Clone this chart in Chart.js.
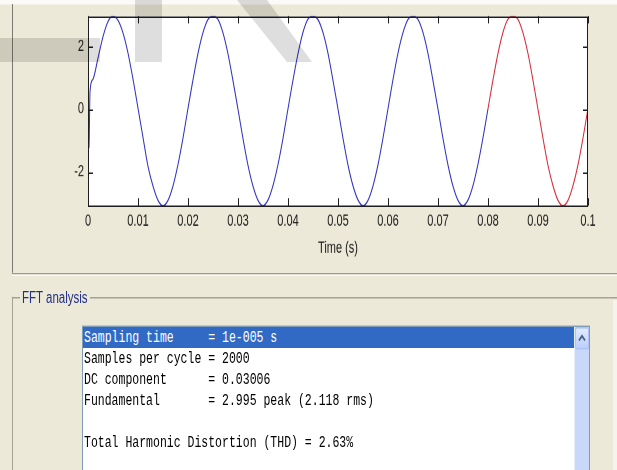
<!DOCTYPE html>
<html>
<head>
<meta charset="utf-8">
<script src="https://cdn.jsdelivr.net/npm/chart.js@4/dist/chart.umd.min.js"></script>
<style>
  html, body { margin: 0; padding: 0; }
  body { width: 617px; height: 470px; overflow: hidden; background: #ECE9D8; position: relative; }
  /* the GUI is laid out at 2/3 height and stretched vertically */
  #stage { position: absolute; left: 0; top: 0; width: 617px; height: 313.333px;
           transform: scaleY(1.5); transform-origin: 0 0; }
  .abs { position: absolute; }
  #topband { left: 0; top: 0; width: 617px; height: 3.33px; background: #fafaf8; }
  #plotBox { left: 0; top: 0; width: 617px; height: 182px; }
  #leftLine { left: 12px; top: 3.33px; width: 1px; height: 178.7px; background: #7c7a70; }
  #sep { left: 12px; top: 181.5px; width: 605px; height: 1px; background: #9e9b8e; }
  #sepHi { left: 12px; top: 182.5px; width: 605px; height: 0.7px; background: #fbfaf5; }
  #grpLineA { left: 12px; top: 198px; width: 8px; height: 1px; background: #a4a195; }
  #grpLineB { left: 90px; top: 198px; width: 527px; height: 1px; background: #a4a195; }
  #grpLeft { left: 12px; top: 198px; width: 1px; height: 120px; background: #a4a195; }
  #grpLabel { left: 22px; top: 191.5px; font: 11.5px "Liberation Sans", Arial, sans-serif;
              color: #22308a; line-height: 13px; white-space: nowrap; }
  #rightStrip { left: 613px; top: 200px; width: 4px; height: 120px; background: #f4f3ec; }
  #listbox { left: 82px; top: 216.7px; width: 506px; height: 120px; background: #fff;
             border: 1px solid #7f9db9; overflow: hidden; }
  .row { position: absolute; left: 0; width: 491px; height: 14px; line-height: 14px;
         font: 11.5px "Liberation Mono", "Courier New", monospace; color: #000;
         white-space: pre; padding-left: 1px; box-sizing: border-box; }
  .row.sel { background: #316AC5; color: #fff; }
  #scroll { position: absolute; right: 0; top: 0; width: 15px; height: 120px;
            background: #c9d8f8; border-left: 1px solid #e6eefc; box-sizing: border-box; }
  #upBtn { position: absolute; left: 0; top: 0.7px; width: 14px; height: 15px;
           background: linear-gradient(#e2eafd, #bccffa); border: 1px solid #aec3ef;
           border-radius: 2px; box-sizing: border-box; }
  #wm { left: 0; top: 0; width: 617px; height: 313.333px; pointer-events: none; }
</style>
</head>
<body>
<div id="stage">
  <div id="topband" class="abs"></div>
  <div id="plotBox" class="abs"><canvas id="wave"></canvas></div>
  <div id="leftLine" class="abs"></div>
  <div id="sep" class="abs"></div>
  <div id="sepHi" class="abs"></div>
  <div id="grpLineA" class="abs"></div>
  <div id="grpLineB" class="abs"></div>
  <div id="grpLeft" class="abs"></div>
  <div id="grpLabel" class="abs">FFT analysis</div>
  <div id="rightStrip" class="abs"></div>
  <div id="listbox" class="abs">
    <div id="rows"></div>
    <div id="scroll">
      <div id="upBtn">
        <svg width="12" height="13" viewBox="0 0 12 13" style="position:absolute;left:0;top:0">
          <polyline points="3,8 6,5 9,8" fill="none" stroke="#4d6185" stroke-width="1.6"/>
        </svg>
      </div>
    </div>
  </div>
  <svg id="wm" class="abs" viewBox="0 0 617 313.333" preserveAspectRatio="none">
    <g fill="#000" fill-opacity="0.13">
      <rect x="0" y="25.33" width="100" height="16"/>
      <rect x="135" y="0" width="27" height="41.33"/>
      <polygon points="237,0 267,0 312,41.33 287,41.33"/>
    </g>
  </svg>
</div>

<script>
// Sample instants (s) and the measured signal over 0 .. 0.1 s (5 cycles at 50 Hz)
const timeS = [
  0, 0.0002, 0.0004, 0.001, 0.002, 0.003, 0.004, 0.005, 0.006, 0.007, 0.008, 0.009,
  0.010, 0.011, 0.012, 0.013, 0.014, 0.015, 0.016, 0.017, 0.018, 0.019,
  0.020, 0.021, 0.022, 0.023, 0.024, 0.025, 0.026, 0.027, 0.028, 0.029,
  0.030, 0.031, 0.032, 0.033, 0.034, 0.035, 0.036, 0.037, 0.038, 0.039,
  0.040, 0.041, 0.042, 0.043, 0.044, 0.045, 0.046, 0.047, 0.048, 0.049,
  0.050, 0.051, 0.052, 0.053, 0.054, 0.055, 0.056, 0.057, 0.058, 0.059,
  0.060, 0.061, 0.062, 0.063, 0.064, 0.065, 0.066, 0.067, 0.068, 0.069,
  0.070, 0.071, 0.072, 0.073, 0.074, 0.075, 0.076, 0.077, 0.078, 0.079,
  0.080, 0.081, 0.082, 0.083, 0.084, 0.085, 0.086, 0.087, 0.088, 0.089,
  0.090, 0.091, 0.092, 0.093, 0.094, 0.095, 0.096, 0.097, 0.098, 0.099,
  0.100
];
const signal = [
  -1.25, -1.22, 0.55, 0.95, 1.62, 2.30, 2.78, 2.96, 2.82, 2.42, 1.78, 0.95,
  0.03, -0.90, -1.82, -2.45, -2.90, -3.07, -2.90, -2.44, -1.76, -0.92,
  0.02, 0.93, 1.77, 2.43, 2.85, 2.96, 2.85, 2.42, 1.75, 0.90,
  -0.01, -0.94, -1.79, -2.45, -2.90, -3.07, -2.89, -2.43, -1.76, -0.93,
  0.01, 0.92, 1.76, 2.44, 2.86, 2.96, 2.84, 2.43, 1.77, 0.91,
  0.00, -0.93, -1.78, -2.44, -2.89, -3.07, -2.90, -2.44, -1.77, -0.92,
  0.01, 0.94, 1.78, 2.43, 2.85, 2.96, 2.85, 2.43, 1.76, 0.90,
  0.00, -0.94, -1.78, -2.45, -2.90, -3.07, -2.89, -2.43, -1.75, -0.91,
  0.01, 0.93, 1.77, 2.44, 2.86, 2.96, 2.85, 2.42, 1.76, 0.91,
  -0.01, -0.93, -1.79, -2.44, -2.90, -3.07, -2.90, -2.43, -1.77, -0.92,
  0.02
];
// start of the FFT window (last cycle, drawn in red)
const fftWindowStart = 0.08;

const xTicks = [0, 0.01, 0.02, 0.03, 0.04, 0.05, 0.06, 0.07, 0.08, 0.09, 0.1];
const xTickLabels = ['0', '0.01', '0.02', '0.03', '0.04', '0.05', '0.06', '0.07', '0.08', '0.09', '0.1'];
const yTicks = [-2, 0, 2];
const yTickLabels = ['-2', '0', '2'];
const xLimits = [0, 0.1];
const yLimits = [-3.07, 2.96];

const reportLines = [
  'Sampling time     = 1e-005 s',
  'Samples per cycle = 2000',
  'DC component      = 0.03006',
  'Fundamental       = 2.995 peak (2.118 rms)',
  '',
  'Total Harmonic Distortion (THD) = 2.63%'
];

// FFT analysis text list
const rowsEl = document.getElementById('rows');
reportLines.forEach((line, i) => {
  const d = document.createElement('div');
  d.className = 'row' + (i === 0 ? ' sel' : '');
  d.style.top = (0.7 + i * 14) + 'px';
  d.textContent = line;
  rowsEl.appendChild(d);
});

const bluePts = [], redPts = [];
timeS.forEach((t, i) => {
  if (t <= fftWindowStart + 1e-9) bluePts.push({ x: t, y: signal[i] });
  if (t >= fftWindowStart - 1e-9) redPts.push({ x: t, y: signal[i] });
});

// white axes background, box outline and inward tick marks on all four sides
const axesFrame = {
  id: 'axesFrame',
  beforeDatasetsDraw(chart) {
    const { ctx, chartArea: a } = chart;
    ctx.save();
    ctx.fillStyle = '#ffffff';
    ctx.fillRect(a.left, a.top, a.right - a.left, a.bottom - a.top);
    ctx.restore();
  },
  afterDatasetsDraw(chart) {
    const { ctx, chartArea: a, scales } = chart;
    const len = 5;
    ctx.save();
    ctx.strokeStyle = '#1e1e1e';
    ctx.lineWidth = 1;
    ctx.beginPath();
    scales.x.ticks.forEach(tk => {
      const px = Math.round(scales.x.getPixelForValue(tk.value)) + 0.5;
      ctx.moveTo(px, a.bottom); ctx.lineTo(px, a.bottom - len);
      ctx.moveTo(px, a.top); ctx.lineTo(px, a.top + len);
    });
    scales.y.ticks.forEach(tk => {
      const py = Math.round(scales.y.getPixelForValue(tk.value)) + 0.5;
      ctx.moveTo(a.left, py); ctx.lineTo(a.left + len, py);
      ctx.moveTo(a.right, py); ctx.lineTo(a.right - len, py);
    });
    ctx.stroke();
    ctx.strokeRect(Math.round(a.left) + 0.5, Math.round(a.top) + 0.5,
                   Math.round(a.right - a.left) - 1, Math.round(a.bottom - a.top) - 1);
    ctx.restore();
  }
};

const tickFont = { family: '"Liberation Sans", Arial, sans-serif', size: 11 };

new Chart(document.getElementById('wave'), {
  type: 'line',
  data: {
    datasets: [
      { data: bluePts, borderColor: 'rgb(48,48,190)', borderWidth: 1, pointRadius: 0,
        cubicInterpolationMode: 'monotone', fill: false },
      { data: redPts, borderColor: 'rgb(212,42,58)', borderWidth: 1, pointRadius: 0,
        cubicInterpolationMode: 'monotone', fill: false }
    ]
  },
  options: {
    responsive: true,
    maintainAspectRatio: false,
    devicePixelRatio: 2,
    animation: false,
    layout: { padding: { left: 0, top: 8.2, right: 29, bottom: 0 } },
    plugins: { legend: { display: false }, tooltip: { enabled: false } },
    scales: {
      x: {
        type: 'linear', min: xLimits[0], max: xLimits[1],
        grid: { display: false, drawTicks: false }, border: { display: false },
        afterBuildTicks: s => { s.ticks = xTicks.map(v => ({ value: v })); },
        afterFit: s => { s.height = 44.9; },
        ticks: { font: tickFont, color: '#1a1a1a', padding: 4, maxRotation: 0, autoSkip: false,
                 callback: (v, i) => xTickLabels[i] },
        title: { display: true, text: 'Time (s)', font: tickFont, color: '#1a1a1a',
                 padding: { top: 0, bottom: 10 } }
      },
      y: {
        type: 'linear', min: yLimits[0], max: yLimits[1],
        grid: { display: false, drawTicks: false }, border: { display: false },
        afterBuildTicks: s => { s.ticks = yTicks.map(v => ({ value: v })); },
        afterFit: s => { s.width = 88; },
        ticks: { font: tickFont, color: '#1a1a1a', padding: 4,
                 callback: (v, i) => yTickLabels[i] }
      }
    }
  },
  plugins: [axesFrame]
});
</script>
</body>
</html>
